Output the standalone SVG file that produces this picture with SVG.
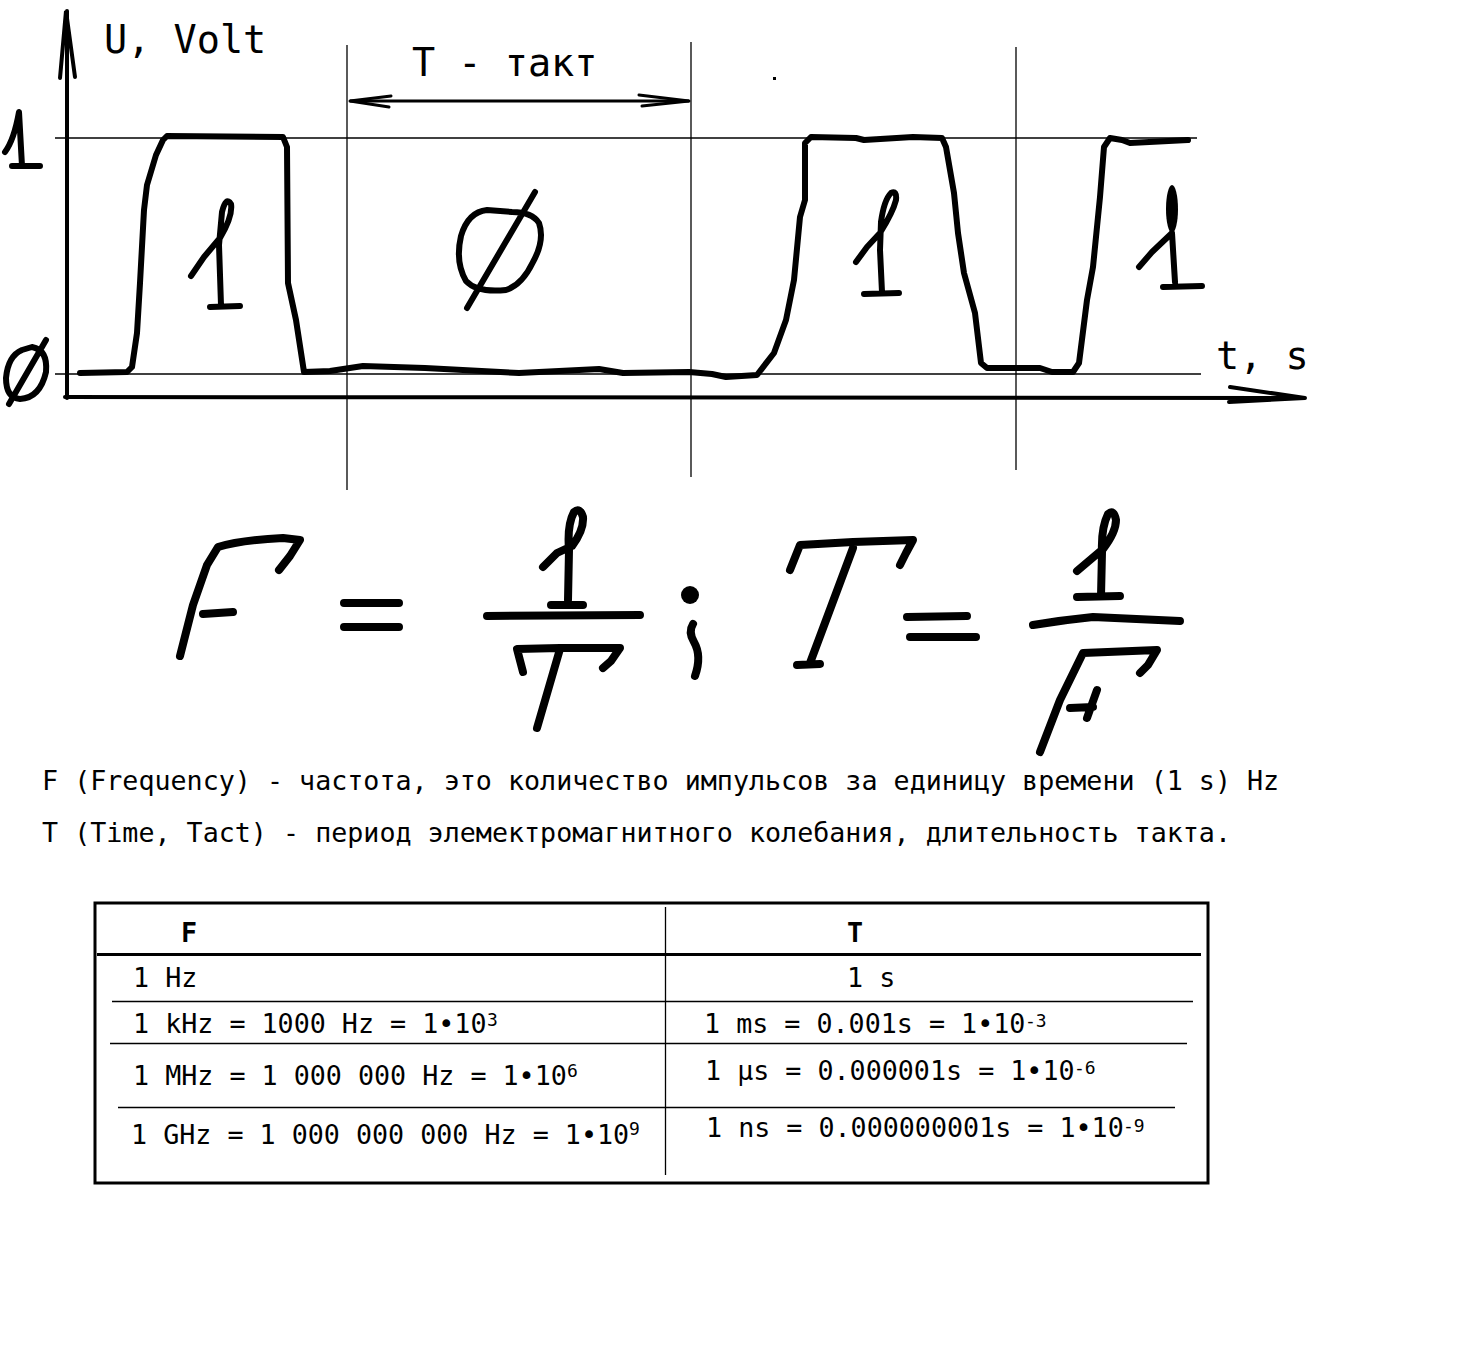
<svg xmlns="http://www.w3.org/2000/svg" width="1480" height="1360" viewBox="0 0 1480 1360">
<style>
.bg{fill:#fff}
.thin{stroke:#000;stroke-width:1.3;fill:none}
.axis{stroke:#000;stroke-width:4;fill:none;stroke-linecap:round}
.pen{stroke:#000;stroke-width:6;fill:none;stroke-linecap:round;stroke-linejoin:round}
.pen8{stroke:#000;stroke-width:8;fill:none;stroke-linecap:round;stroke-linejoin:round}
.arr{stroke:#000;stroke-width:3;fill:none;stroke-linecap:round}
.mono{font-family:"DejaVu Sans Mono","Liberation Mono",monospace;fill:#000}
.big{font-size:38.5px}
.txt{font-size:26.7px}
.hdr{font-size:26.7px;font-weight:bold}
.sup{font-size:18px}
.tb{stroke:#000;fill:none}
</style>
<rect class="bg" x="0" y="0" width="1480" height="1360"/>

<g id="grid">
<line class="thin" x1="55" y1="138" x2="1197" y2="138"/>
<line class="thin" x1="55" y1="374" x2="1201" y2="374"/>
<line class="thin" x1="347" y1="45" x2="347" y2="490"/>
<line class="thin" x1="691" y1="42" x2="691" y2="477"/>
<line class="thin" x1="1016" y1="47" x2="1016" y2="470"/>
</g>

<g id="axes">
<line class="axis" x1="67" y1="398" x2="67" y2="11"/>
<path class="axis" d="M60,78 L66,11 L75,77"/>
<line class="axis" x1="65" y1="397" x2="1305" y2="398"/>
<path class="axis" d="M1230,387 L1305,398 L1229,402"/>
<text class="mono big" x="104" y="53">U, Volt</text>
<text class="mono big" x="1216" y="369">t, s</text>
<path class="pen" d="M5,152 Q14,140 19,112 L22,166 M12,166 L40,166"/>
<path class="pen" d="M22,350 Q8,356 6,378 Q6,398 20,399 Q40,398 46,372 Q48,350 32,347 Z M46,340 L9,404"/>
</g>

<g id="period">
<line class="arr" x1="350" y1="101" x2="689" y2="101"/>
<path class="arr" d="M391,96 L350,101 L389,107"/>
<path class="arr" d="M639,95 L689,101 L642,106"/>
<text class="mono big" x="412" y="76">T - такт</text>
<rect x="773" y="77" width="3" height="3" fill="#000"/>
</g>

<g id="waveform">
<path class="pen" d="M80,373 L127,372 L132,367 L137,333 L140,283 L144,210 L147,185 L156,155 L163,140 L167,136 L283,137 L287,147 L288,283 L296,320 L304,372 L330,371 L363,366 L425,368 L519,373 L599,369 L623,373 L689,372 L712,374 L726,377 L757,375 L774,353 L786,320 L794,280 L800,217 L805,200 L805,143 L811,137 L856,138 L864,140 L913,137 L942,138 L946,147 L954,193 L958,233 L964,273 L975,313 L981,363 L987,368 L1040,368 L1052,372 L1073,372 L1079,363 L1087,300 L1093,267 L1100,197 L1104,147 L1110,138 L1122,140 L1130,143 L1188,140"/>
</g>

<g id="digits">
<path class="pen" d="M191,276 L204,257 L220,238 Q233,216 231,204 Q226,196 222,212 L219,245 L221,305 M210,307 L240,306"/>
<path class="pen" d="M487,210 Q468,212 461,236 Q455,262 466,281 Q477,293 506,290 Q522,285 533,262 Q545,240 539,223 Q532,212 512,212 Z M535,192 L467,308"/>
<path class="pen" d="M856,262 L867,247 L880,233 Q893,212 896,200 Q897,190 891,193 Q884,200 881,222 L880,250 L882,292 M864,294 L899,293"/>
<ellipse cx="1172" cy="209" rx="6" ry="24" fill="#000"/>
<path class="pen" d="M1139,267 L1152,252 L1172,233 L1175,282 M1163,287 L1202,286"/>
</g>

<g id="formula">
<path class="pen8" d="M180,656 L193,605 L207,565 L218,547 Q240,540 283,538 L300,540 L290,556 L279,570 M203,614 L233,612"/>
<path class="pen8" d="M344,603 L399,603 M344,627 L399,627"/>
<path class="pen8" d="M543,567 L557,553 L572,546 Q584,530 583,517 Q580,507 574,512 Q567,525 569,550 L568,600 M551,605 L583,605"/>
<path class="pen8" d="M487,616 L640,615"/>
<path class="pen8" d="M523,672 L517,649 L560,648 L620,648 L611,661 L603,668 M560,649 L537,728"/>
<circle cx="690" cy="595" r="9" fill="#000"/>
<path class="pen8" d="M693,624 Q688,632 694,642 Q702,656 695,676"/>
<path class="pen8" d="M790,570 L800,545 L853,542 L913,540 L906,553 L900,565 M853,548 L810,663 M797,665 L820,664"/>
<path class="pen8" d="M907,617 L967,616 M910,637 L976,637"/>
<path class="pen8" d="M1077,571 L1090,560 L1103,549 Q1116,532 1116,520 Q1114,509 1108,514 Q1101,528 1102,552 L1101,596 M1077,597 L1120,596"/>
<path class="pen8" d="M1033,625 Q1063,620 1093,617 L1180,621"/>
<path class="pen8" d="M1040,752 L1060,700 L1083,653 L1157,650 L1148,665 L1140,673 M1070,708 L1093,707 M1097,690 L1087,718"/>
</g>

<g id="description">
<text class="mono txt" x="42" y="790">F (Frequency) - частота, это количество импульсов за единицу времени (1 s) Hz</text>
<text class="mono txt" x="42" y="842">T (Time, Tact) - период элемектромагнитного колебания, длительность такта.</text>
</g>

<g id="table">
<rect class="tb" x="95" y="903" width="1113" height="280" stroke-width="3"/>
<line class="tb" x1="97" y1="954.5" x2="1201" y2="954.5" stroke-width="3"/>
<line class="tb" x1="665.5" y1="907" x2="665.5" y2="1175" stroke-width="1.3"/>
<line class="tb" x1="112" y1="1001.5" x2="1193" y2="1001.5" stroke-width="1.3"/>
<line class="tb" x1="110" y1="1043.5" x2="1187" y2="1043.5" stroke-width="1.3"/>
<line class="tb" x1="118" y1="1107.5" x2="1175" y2="1107.5" stroke-width="1.3"/>
<text class="mono hdr" x="181" y="942">F</text>
<text class="mono hdr" x="847" y="942">T</text>
<text class="mono txt" x="133" y="987">1 Hz</text>
<text class="mono txt" x="133" y="1033">1 kHz = 1000 Hz = 1•10</text>
<text class="mono sup" x="487" y="1026">3</text>
<text class="mono txt" x="133" y="1085">1 MHz = 1 000 000 Hz = 1•10</text>
<text class="mono sup" x="567" y="1077">6</text>
<text class="mono txt" x="131" y="1144">1 GHz = 1 000 000 000 Hz = 1•10</text>
<text class="mono sup" x="629" y="1135">9</text>
<text class="mono txt" x="847" y="987">1 s</text>
<text class="mono txt" x="704" y="1033">1 ms = 0.001s = 1•10</text>
<text class="mono sup" x="1025" y="1027">-3</text>
<text class="mono txt" x="705" y="1080">1 µs = 0.000001s = 1•10</text>
<text class="mono sup" x="1074" y="1074">-6</text>
<text class="mono txt" x="706" y="1137">1 ns = 0.000000001s = 1•10</text>
<text class="mono sup" x="1123" y="1132">-9</text>
</g>
</svg>
